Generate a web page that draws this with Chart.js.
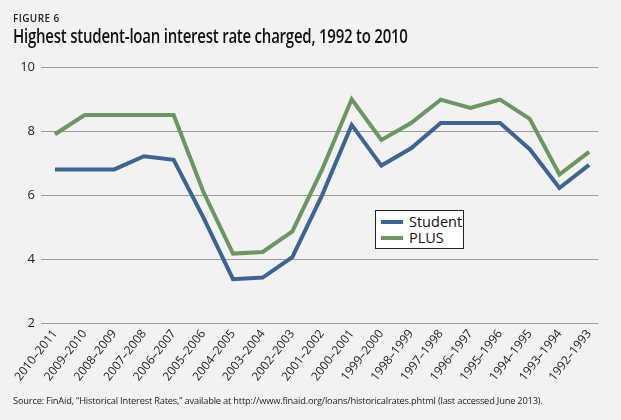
<!DOCTYPE html>
<html><head><meta charset="utf-8">
<script src="https://cdn.jsdelivr.net/npm/chart.js@4/dist/chart.umd.min.js"></script>
<style>
html,body{margin:0;padding:0;background:#f2f2f2;}
#wrap{position:relative;width:621px;height:420px;background:#f2f2f2;overflow:hidden;font-family:"Open Sans",sans-serif;}
#fig{position:absolute;left:13px;top:11px;font-size:10px;font-weight:600;color:#222;letter-spacing:0.4px;}
#title{position:absolute;left:13px;top:23px;font-size:19px;font-weight:600;color:#111;white-space:nowrap;letter-spacing:-0.3px;transform:scaleX(0.79);transform-origin:0 0;}
#src{position:absolute;left:13px;top:394px;font-size:9.3px;color:#222;white-space:nowrap;letter-spacing:-0.2px;}
#c{position:absolute;left:0;top:0;}
#legend{position:absolute;left:375px;top:210px;width:87px;height:37px;background:#fff;border:1px solid #222;font-size:14.5px;color:#111;}
.li{position:absolute;left:5px;height:16px;line-height:16px;}
.sw{display:inline-block;width:22px;height:4px;vertical-align:middle;margin-right:6px;position:relative;top:-1px;}
</style></head>
<body><div id="wrap">
<canvas id="c" width="621" height="420"></canvas>
<div id="fig">FIGURE 6</div>
<div id="title">Highest student-loan interest rate charged, 1992 to 2010</div>
<div id="legend">
 <div class="li" style="top:3px"><span class="sw" style="background:#3e6591"></span>Student</div>
 <div class="li" style="top:19px"><span class="sw" style="background:#6b9561"></span>PLUS</div>
</div>
<div id="src">Source: FinAid, “Historical Interest Rates,” available at http://www.finaid.org/loans/historicalrates.phtml (last accessed June 2013).</div>
</div>
<script>
const categories = ["2010–2011","2009–2010","2008–2009","2007–2008","2006–2007","2005–2006","2004–2005","2003–2004","2002–2003","2001–2002","2000–2001","1999–2000","1998–1999","1997–1998","1996–1997","1995–1996","1994–1995","1993–1994","1992–1993"];
const studentRates = [6.8,6.8,6.8,7.21,7.1,5.3,3.37,3.42,4.06,5.99,8.19,6.92,7.46,8.25,8.25,8.25,7.43,6.22,6.94];
const plusRates = [7.9,8.5,8.5,8.5,8.5,6.1,4.17,4.22,4.86,6.79,8.99,7.72,8.25,8.98,8.72,8.98,8.38,6.64,7.35];
const yTicks = [2,4,6,8,10];

const toPts = arr => arr.map((v,i)=>({x:i,y:v}));

new Chart(document.getElementById('c'), {
  type: 'line',
  data: {
    datasets: [
      {label:'Student', data: toPts(studentRates), borderColor:'#3e6591', borderWidth:4, pointRadius:0, tension:0, borderJoinStyle:'miter'},
      {label:'PLUS', data: toPts(plusRates), borderColor:'#6b9561', borderWidth:4, pointRadius:0, tension:0, borderJoinStyle:'miter'}
    ]
  },
  options: {
    responsive:false, animation:false,
    layout:{padding:{left:0,right:23,top:67,bottom:0}},
    plugins:{legend:{display:false}, tooltip:{enabled:false}},
    scales:{
      x:{type:'linear', min:-0.47, max:18.3,
        grid:{display:false, drawTicks:false}, border:{display:false},
        afterBuildTicks: s => { s.ticks = categories.map((c,i)=>({value:i})); },
        afterFit: s => { s.height = 97; },
        ticks:{autoSkip:false, minRotation:52, maxRotation:52, padding:4, color:'#222',
          font:{family:'Open Sans', size:12},
          callback: v => categories[v] ?? ''}
      },
      y:{min:2, max:10,
        afterBuildTicks: s => { s.ticks = yTicks.map(v=>({value:v})); },
        afterFit: s => { s.width = 41; },
        grid:{color:'#9a9a9a', lineWidth:1, drawTicks:false}, border:{display:false},
        ticks:{padding:6, color:'#222', font:{family:'Open Sans', size:13}}
      }
    }
  }
});
</script>
</body></html>
